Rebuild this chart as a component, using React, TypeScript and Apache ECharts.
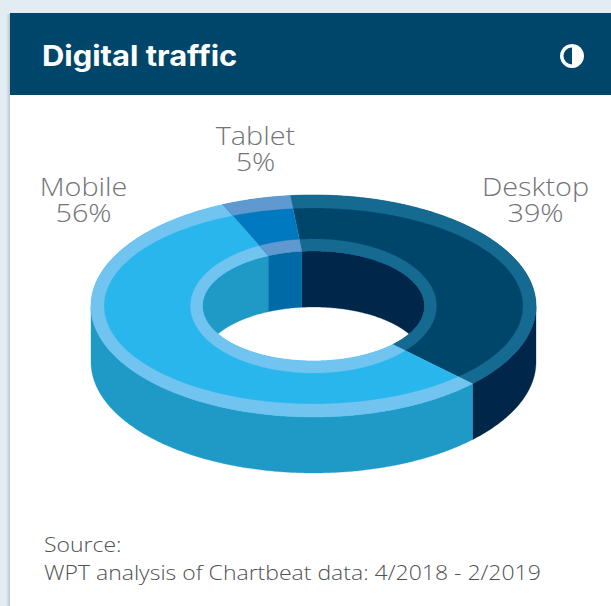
import React, { useEffect, useRef } from "react";
import * as echarts from "echarts";

const titleText = "Digital traffic";
const sourceLines = ["Source:", "WPT analysis of Chartbeat data: 4/2018 - 2/2019"];
const categories = ["Desktop", "Mobile", "Tablet"];
const shares = [39, 56, 5];

const faceColors = ["#00466B", "#29B6EC", "#0079C1"];
const rimColors = ["#156A91", "#72C4F0", "#5F99D0"];
const wallColors = ["#00264A", "#1F9AC7", "#006AA6"];
const labelAnchors = [
  [535.5, 186.5],
  [83.5, 186.5],
  [255.5, 135.5],
];

const W = 611;
const H = 606;
const CX = 313.5;
const CY = 306;
const DEPTH = 56;
const START_DEG = 354;
const OUTER = [222.5, 111];
const RIM_OUT = [209.5, 98];
const RIM_IN = [123, 67];
const INNER = [111, 55];
const LABEL_FONT = "'Open Sans', Inter, sans-serif";

const rad = (d: number) => (d * Math.PI) / 180;
const pt = (e: number[], deg: number, dy = 0) => [
  CX + e[0] * Math.sin(rad(deg)),
  CY + dy - e[1] * Math.cos(rad(deg)),
];
const arc = (e: number[], a: number, b: number, dy = 0) => {
  const n = Math.max(2, Math.ceil(Math.abs(b - a) * 2));
  const out: number[][] = [];
  for (let i = 0; i <= n; i++) out.push(pt(e, a + ((b - a) * i) / n, dy));
  return out;
};
// Where the straight slice edge (outer point to inner point) crosses ellipse e.
const edgeParam = (e: number[], deg: number) => {
  const p = pt(OUTER, deg);
  const q = pt(INNER, deg);
  const px = (p[0] - CX) / e[0];
  const py = (p[1] - CY) / e[1];
  const dx = (q[0] - p[0]) / e[0];
  const dy = (q[1] - p[1]) / e[1];
  const A = dx * dx + dy * dy;
  const B = 2 * (px * dx + py * dy);
  const C = px * px + py * py - 1;
  const u = (-B - Math.sqrt(Math.max(0, B * B - 4 * A * C))) / (2 * A);
  const x = px + u * dx;
  const y = py + u * dy;
  let t = (Math.atan2(x, -y) * 180) / Math.PI;
  while (t < deg - 180) t += 360;
  while (t > deg + 180) t -= 360;
  return t;
};
const band = (e1: number[], e2: number[], a: number, b: number) => [
  ...arc(e1, edgeParam(e1, a), edgeParam(e1, b)),
  ...arc(e2, edgeParam(e2, b), edgeParam(e2, a)),
];
const poly = (points: number[][], fill: string) => ({
  type: "polygon",
  shape: { points },
  style: { fill, stroke: fill, lineWidth: 0.3 },
});
const labelLine = (text: string, x: number, y: number) => ({
  type: "text",
  x,
  y,
  scaleX: 1.13,
  style: {
    text,
    fill: "#737478",
    font: `300 25.5px ${LABEL_FONT}`,
    align: "center",
    verticalAlign: "middle",
  },
});

const renderSlice = (params: any, api: any) => {
  const i = params.dataIndex;
  const total = shares.reduce((s, v) => s + v, 0);
  const before = shares.slice(0, i).reduce((s, v) => s + v, 0);
  const a = START_DEG + (before / total) * 360;
  const b = a + (Number(api.value(0)) / total) * 360;
  const children: any[] = [];

  // outer wall: front half only
  for (let k = 0; k < 3; k++) {
    const lo = Math.max(a, 90 + 360 * k);
    const hi = Math.min(b, 270 + 360 * k);
    if (hi > lo) {
      children.push(poly([...arc(OUTER, lo, hi), ...arc(OUTER, hi, lo, DEPTH)], wallColors[i]));
    }
  }
  // hole wall: back part, cut off by the near lip of the hole
  const cut = (Math.acos(-DEPTH / (2 * INNER[1])) * 180) / Math.PI;
  const cutLow = 180 - cut;
  for (let k = 0; k < 3; k++) {
    const c = 360 * k;
    const lo = Math.max(a, c - cut);
    const hi = Math.min(b, c + cut);
    if (hi > lo) {
      const clampLow = (t: number) => Math.min(c + cutLow, Math.max(c - cutLow, t));
      children.push(
        poly([...arc(INNER, lo, hi), ...arc(INNER, clampLow(hi), clampLow(lo), DEPTH)], wallColors[i]),
      );
    }
  }
  // top face and its two rims
  children.push(poly([...arc(OUTER, a, b), ...arc(INNER, b, a)], faceColors[i]));
  children.push(poly(band(OUTER, RIM_OUT, a, b), rimColors[i]));
  children.push(poly(band(RIM_IN, INNER, a, b), rimColors[i]));
  // label, two lines
  children.push(labelLine(categories[i], labelAnchors[i][0], labelAnchors[i][1]));
  children.push(labelLine(`${api.value(0)}%`, labelAnchors[i][0], labelAnchors[i][1] + 25.5));
  return { type: "group", children };
};

export default function App() {
  const ref = useRef<HTMLDivElement>(null);
  useEffect(() => {
    document.body.style.margin = "0";
    const chart = echarts.init(ref.current!, null, { renderer: "svg" });
    chart.setOption({
      animation: false,
      backgroundColor: "#FFFFFF",
      graphic: [
        { type: "rect", z: 0, shape: { x: 0, y: 0, width: W, height: 13 }, style: { fill: "#E4ECF3" } },
        { type: "rect", z: 0, shape: { x: 0, y: 0, width: 10, height: H }, style: { fill: "#E4ECF3" } },
        {
          type: "rect",
          z: 0,
          shape: { x: 6, y: 14, width: 4, height: H - 14 },
          style: {
            fill: new echarts.graphic.LinearGradient(0, 0, 1, 0, [
              { offset: 0, color: "#E4ECF3" },
              { offset: 1, color: "#BCC6CE" },
            ]),
          },
        },
        { type: "rect", z: 1, shape: { x: 10, y: 13, width: W - 10, height: 82 }, style: { fill: "#00466B" } },
        {
          type: "text",
          z: 2,
          x: 42,
          y: 55.5,
          scaleX: 1.085,
          style: {
            text: titleText,
            fill: "#FFFFFF",
            font: "700 28.5px Inter, Lato, sans-serif",
            verticalAlign: "middle",
          },
        },
        { type: "circle", z: 2, shape: { cx: 572, cy: 56, r: 12 }, style: { fill: "#FFFFFF" } },
        {
          type: "sector",
          z: 3,
          shape: { cx: 572, cy: 56, r: 8.5, r0: 0, startAngle: Math.PI / 2, endAngle: (3 * Math.PI) / 2 },
          style: { fill: "#00466B" },
        },
        {
          type: "text",
          z: 2,
          x: 44,
          y: 543.5,
          scaleX: 1.095,
          style: { text: sourceLines[0], fill: "#4F5153", font: `300 21px ${LABEL_FONT}`, verticalAlign: "middle" },
        },
        {
          type: "text",
          z: 2,
          x: 44,
          y: 571.5,
          scaleX: 1.095,
          style: { text: sourceLines[1], fill: "#4F5153", font: `300 21px ${LABEL_FONT}`, verticalAlign: "middle" },
        },
      ],
      series: [
        {
          type: "custom",
          coordinateSystem: "none",
          silent: true,
          data: shares.map((v) => [v]),
          encode: { value: 0 },
          renderItem: renderSlice,
        },
      ],
    });
    return () => chart.dispose();
  }, []);
  return <div ref={ref} style={{ width: W, height: H }} />;
}
